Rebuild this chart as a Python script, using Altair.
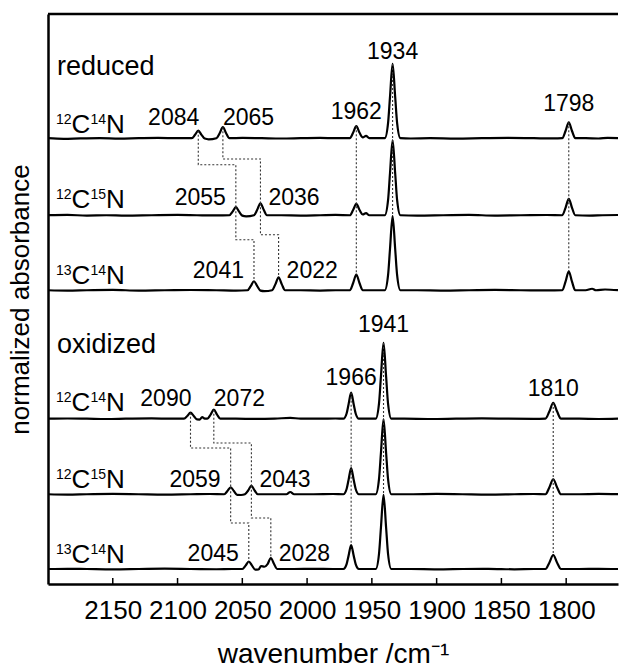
import altair as alt
import pandas as pd

FONT = "Liberation Sans"

# ---------------- data ----------------
# spectra: (wavenumber cm-1, normalized absorbance above own baseline)
red_12C14N = [
    (2200, 0.0), (2188, -0.008), (2175, -0.003), (2160, 0.0), (2145, -0.006), (2130, 0.0), (2115, 0.004), (2100, 0.0),
    (2089, 0.0), (2086.5, 0.045), (2084, 0.100), (2081.5, 0.045), (2079, -0.005), (2076, -0.015),
    (2070, 0.0), (2067.5, 0.066), (2065, 0.147), (2062.5, 0.066), (2060, 0.0),
    (2050, 0.004), (2035, 0.0), (2020, -0.004), (2005, 0.0), (1990, 0.004), (1978, 0.0),
    (1967, 0.002), (1964.5, 0.072), (1962, 0.160), (1959.5, 0.072), (1957, 0.012), (1954.5, 0.03), (1952, 0.0),
    (1946, 0.0), (1940, 0.0), (1937.5, 0.2), (1936, 0.55), (1934, 0.99), (1932, 0.55), (1930.5, 0.2), (1928, 0.0),
    (1920, -0.004), (1905, 0.0), (1885, -0.005), (1865, 0.0), (1845, 0.004), (1825, 0.0), (1810, -0.003),
    (1803, 0.0), (1800.5, 0.096), (1798, 0.213), (1795.5, 0.096), (1793, 0.0),
    (1785, 0.0), (1775, -0.004), (1768, 0.004), (1760, 0.0),
]
red_12C15N = [
    (2200, 0.0), (2185, 0.004), (2170, -0.004), (2155, 0.0), (2140, -0.005), (2120, 0.0), (2100, 0.004), (2085, 0.0), (2070, -0.003),
    (2060, 0.0), (2057.5, 0.048), (2055, 0.107), (2052.5, 0.048), (2050, -0.005), (2047, -0.015),
    (2041, 0.0), (2038.5, 0.072), (2036, 0.160), (2033.5, 0.072), (2031, 0.0),
    (2020, 0.0), (2005, -0.004), (1990, 0.0), (1978, 0.004),
    (1967, 0.0), (1964.5, 0.069), (1962, 0.153), (1959.5, 0.069), (1957, 0.01), (1954.5, 0.028), (1952, 0.0),
    (1946, 0.0), (1940, 0.0), (1937.5, 0.2), (1936, 0.56), (1934, 1.0), (1932, 0.56), (1930.5, 0.2), (1928, 0.0),
    (1915, -0.004), (1895, 0.0), (1875, 0.004), (1855, -0.004), (1835, 0.0), (1815, 0.003),
    (1803, 0.0), (1800.5, 0.099), (1798, 0.220), (1795.5, 0.099), (1793, 0.0),
    (1782, -0.004), (1772, 0.0), (1760, 0.003),
]
red_13C14N = [
    (2200, 0.0), (2185, -0.004), (2170, 0.0), (2150, 0.004), (2130, -0.004), (2110, 0.0), (2090, 0.003), (2070, 0.0), (2055, -0.004),
    (2046, 0.0), (2043.5, 0.054), (2041, 0.120), (2038.5, 0.054), (2036, -0.005), (2033, -0.012),
    (2027, 0.0), (2024.5, 0.078), (2022, 0.173), (2019.5, 0.078), (2017, 0.0),
    (2005, 0.0), (1990, -0.004), (1978, 0.0),
    (1967, 0.0), (1964.5, 0.093), (1962, 0.207), (1959.5, 0.093), (1957, 0.0),
    (1946, 0.0), (1940, 0.0), (1937.5, 0.2), (1936, 0.55), (1934, 0.99), (1932, 0.55), (1930.5, 0.2), (1928, 0.0),
    (1915, 0.0), (1895, -0.004), (1875, 0.0), (1855, 0.004), (1835, 0.0), (1815, -0.003),
    (1803, 0.0), (1800.5, 0.114), (1798, 0.253), (1795.5, 0.114), (1793, 0.0),
    (1785, 0.0), (1780, 0.02), (1777, 0.0), (1770, 0.01), (1760, 0.0),
]
ox_12C14N = [
    (2200, 0.0), (2185, 0.003), (2170, 0.0), (2155, -0.004), (2140, 0.0), (2120, 0.004), (2105, 0.0),
    (2095, 0.0), (2092.5, 0.036), (2090, 0.080), (2087.5, 0.036), (2085, -0.01), (2083, -0.012), (2081, 0.02), (2079, 0.0),
    (2077, 0.0), (2074.5, 0.054), (2072, 0.120), (2069.5, 0.054), (2067, 0.0),
    (2055, 0.0), (2040, -0.003), (2025, 0.0), (2013, 0.012), (2005, 0.0), (1990, 0.0), (1978, 0.003),
    (1972, 0.0), (1969.5, 0.07), (1968, 0.19), (1966, 0.347), (1964, 0.19), (1962.5, 0.07), (1960, 0.0),
    (1953, 0.0), (1947, 0.0), (1944.5, 0.2), (1943, 0.56), (1941, 1.01), (1939, 0.56), (1937.5, 0.2), (1935, 0.0),
    (1925, 0.0), (1905, -0.004), (1885, 0.0), (1865, 0.004), (1845, 0.0), (1825, -0.003),
    (1816, 0.0), (1813, 0.095), (1810, 0.210), (1807, 0.095), (1804, 0.0),
    (1790, 0.0), (1775, -0.004), (1760, 0.0),
]
ox_12C15N = [
    (2200, 0.0), (2185, -0.004), (2170, 0.0), (2150, 0.004), (2130, 0.0), (2110, -0.004), (2090, 0.0), (2075, 0.003),
    (2064, 0.0), (2061.5, 0.042), (2059, 0.093), (2056.5, 0.042), (2054, -0.008), (2051, -0.01), (2048, 0.0),
    (2045.5, 0.05), (2043, 0.113), (2040.5, 0.05), (2038, 0.0),
    (2025, 0.0), (2016, 0.0), (2013, 0.03), (2010, 0.0), (1995, 0.0), (1980, 0.003),
    (1972, 0.0), (1969.5, 0.07), (1968, 0.19), (1966, 0.347), (1964, 0.19), (1962.5, 0.07), (1960, 0.0),
    (1953, 0.0), (1947, 0.0), (1944.5, 0.2), (1943, 0.55), (1941, 1.0), (1939, 0.55), (1937.5, 0.2), (1935, 0.0),
    (1920, 0.0), (1900, 0.004), (1880, 0.0), (1860, -0.004), (1840, 0.0), (1825, 0.003),
    (1816, 0.0), (1813, 0.09), (1810, 0.200), (1807, 0.09), (1804, 0.0),
    (1790, 0.0), (1775, 0.004), (1760, 0.0),
]
ox_13C14N = [
    (2200, 0.0), (2185, 0.003), (2170, 0.0), (2150, -0.004), (2130, 0.0), (2110, 0.004), (2090, 0.0), (2070, -0.003), (2058, 0.0),
    (2050, 0.0), (2047.5, 0.045), (2045, 0.100), (2042.5, 0.045), (2040, -0.008), (2037.5, -0.005),
    (2035.5, 0.04), (2033, 0.03), (2030.5, 0.066), (2028, 0.147), (2025.5, 0.066), (2023, 0.0),
    (2010, 0.0), (1995, 0.003), (1980, 0.0),
    (1972, 0.0), (1969.5, 0.065), (1968, 0.175), (1966, 0.32), (1964, 0.175), (1962.5, 0.065), (1960, 0.0),
    (1953, 0.0), (1947, 0.0), (1944.5, 0.2), (1943, 0.55), (1941, 0.99), (1939, 0.55), (1937.5, 0.2), (1935, 0.0),
    (1920, 0.0), (1900, -0.004), (1880, 0.0), (1860, 0.003), (1840, -0.004), (1825, 0.0),
    (1816, 0.0), (1813, 0.084), (1810, 0.187), (1807, 0.084), (1804, 0.0),
    (1790, 0.0), (1775, 0.003), (1760, 0.0),
]

spectrum_names = ["red_12C14N", "red_12C15N", "red_13C14N", "ox_12C14N", "ox_12C15N", "ox_13C14N"]
spectrum_data = [red_12C14N, red_12C15N, red_13C14N, ox_12C14N, ox_12C15N, ox_13C14N]
stack_offsets = [5.944, 4.917, 3.917, 2.204, 1.197, 0.20]

# isotope labels (superscript mass numbers)
iso_C = ["12", "12", "13", "12", "12", "13"]
iso_N = ["14", "15", "14", "14", "15", "14"]
iso_label_wn = 2193
iso_label_lift = [0.069, 0.096, 0.083, 0.097, 0.083, 0.08]

# state labels
state_text = ["reduced", "oxidized"]
state_y = [6.79, 3.08]

# peak labels: text, style group, baseline level
peak_text = ["1934", "2084", "2065", "1962", "1798", "2055", "2036", "2041", "2022",
             "1941", "1966", "1810", "2090", "2072", "2059", "2043", "2045", "2028"]
peak_style = ["c", "rp", "lp", "c", "c", "r", "l", "r", "l",
              "c", "c", "c", "rp", "lp", "r", "l", "r", "l"]
peak_level = [7.00, 6.124, 6.124, 6.20, 6.301, 5.057, 5.057, 4.08, 4.08,
              3.364, 2.657, 2.501, 2.377, 2.377, 1.297, 1.297, 0.311, 0.311]

# isotope-shift connectors: upper peak, upper spectrum, lower peak, lower spectrum, step level
conn_from = [2084, 2065, 2055, 2036, 2090, 2072, 2059, 2043]
conn_from_spec = [0, 0, 1, 1, 3, 3, 4, 4]
conn_to = [2055, 2036, 2041, 2022, 2059, 2043, 2045, 2028]
conn_to_spec = [1, 1, 2, 2, 4, 4, 5, 5]
conn_level = [5.591, 5.667, 4.591, 4.657, 1.813, 1.880, 0.813, 0.880]

# unshifted bands: vertical dotted guides
guide_wn = [1962, 1934, 1798, 1966, 1941, 1810]
guide_from_spec = [0, 0, 0, 3, 3, 3]
guide_to_spec = [2, 2, 2, 5, 5, 5]

tick_values = [2150, 2100, 2050, 2000, 1950, 1900, 1850, 1800]

# ---------------- tables ----------------
rows = []
for name, pts, off in zip(spectrum_names, spectrum_data, stack_offsets):
    for w, a in pts:
        rows.append({"spec": name, "wn": w, "y": a + off})
spec_df = pd.DataFrame(rows)


def peak_top(spec_idx, wn):
    d = dict(spectrum_data[spec_idx])
    return d[wn] + stack_offsets[spec_idx]


crow = []
k = 0
for a, sa, b, sb, lev in zip(conn_from, conn_from_spec, conn_to, conn_to_spec, conn_level):
    pts = [(a, peak_top(sa, a)), (a, lev), (b, lev), (b, peak_top(sb, b))]
    for i, (w, yv) in enumerate(pts):
        crow.append({"cid": k, "seq": i, "wn": w, "y": yv})
    k += 1
for g, sa, sb in zip(guide_wn, guide_from_spec, guide_to_spec):
    pts = [(g, peak_top(sa, g)), (g, peak_top(sb, g))]
    for i, (w, yv) in enumerate(pts):
        crow.append({"cid": k, "seq": i, "wn": w, "y": yv})
    k += 1
conn_df = pd.DataFrame(crow)

peak_df = pd.DataFrame({"text": peak_text, "style": peak_style, "y": peak_level,
                        "wn": [float(t) for t in peak_text]})
iso_df = pd.DataFrame({"c": iso_C, "n": iso_N, "wn": iso_label_wn,
                       "y": [o + l for o, l in zip(stack_offsets, iso_label_lift)]})
state_df = pd.DataFrame({"text": state_text, "wn": iso_label_wn, "y": state_y})
tick_df = pd.DataFrame({"wn": tick_values})
one_df = pd.DataFrame({"k": [0]})

# ---------------- encodings ----------------
xs = alt.Scale(domain=[2200, 1760], nice=False, zero=False)
ys = alt.Scale(domain=[0, 7.6], nice=False, zero=False)
x_axis = alt.Axis(values=tick_values, format="d", labelOverlap=False, ticks=False, tickSize=0,
                  labelFontSize=26, labelFont=FONT,
                  labelColor="black", labelPadding=13, domainColor="black", domainWidth=2.5, grid=False,
                  title="wavenumber /cm\u207b\u00b9", titleFont=FONT, titleFontSize=28,
                  titleFontWeight="normal", titleColor="black", titlePadding=17, labelFlush=False)
y_axis = alt.Axis(labels=False, ticks=False, tickSize=0, domainColor="black", domainWidth=2.5, grid=False,
                  title="normalized absorbance", titleFont=FONT, titleFontSize=26,
                  titleFontWeight="normal", titleColor="black", titlePadding=15)
X = alt.X("wn:Q", scale=xs, axis=x_axis)
Y = alt.Y("y:Q", scale=ys, axis=y_axis)

lines = alt.Chart(spec_df).mark_line(color="black", strokeWidth=2.2, interpolate="monotone", clip=True).encode(
    x=X, y=Y, detail="spec:N")

dotted = alt.Chart(conn_df).mark_line(color="#333333", strokeWidth=1.1, strokeDash=[2, 2]).encode(
    x=X, y=Y, detail="cid:N", order="seq:Q")

styles = {"c": ("center", 0), "rp": ("right", 1), "lp": ("left", 0), "r": ("right", -10), "l": ("left", 8)}
label_layers = []
for key, (al, dx) in styles.items():
    label_layers.append(
        alt.Chart(peak_df).transform_filter(alt.datum.style == key)
        .mark_text(align=al, dx=dx, baseline="alphabetic", font=FONT, fontSize=23, color="black")
        .encode(x=X, y=Y, text="text:N"))

state_layer = alt.Chart(state_df).mark_text(align="left", baseline="alphabetic", font=FONT, fontSize=27,
                                            color="black").encode(x=X, y=Y, text="text:N")

iso_layers = [
    alt.Chart(iso_df).mark_text(align="left", baseline="alphabetic", font=FONT, fontSize=14, dx=-1, dy=-9,
                                color="black").encode(x=X, y=Y, text="c:N"),
    alt.Chart(iso_df).mark_text(align="left", baseline="alphabetic", font=FONT, fontSize=26, dx=14.5,
                                color="black").encode(x=X, y=Y, text=alt.value("C")),
    alt.Chart(iso_df).mark_text(align="left", baseline="alphabetic", font=FONT, fontSize=14, dx=33.5, dy=-9,
                                color="black").encode(x=X, y=Y, text="n:N"),
    alt.Chart(iso_df).mark_text(align="left", baseline="alphabetic", font=FONT, fontSize=26, dx=49,
                                color="black").encode(x=X, y=Y, text=alt.value("N")),
]

ticks = alt.Chart(tick_df).mark_rule(color="black", strokeWidth=1.5).encode(
    x=X, y=alt.value(570), y2=alt.value(564))

top_frame = alt.Chart(one_df).mark_rule(color="black", strokeWidth=2.5).encode(
    x=alt.value(0), x2=alt.value(570), y=alt.value(0))

chart = alt.layer(lines, dotted, *label_layers, state_layer, *iso_layers, ticks, top_frame).properties(
    width=570, height=570,
    padding={"left": 48, "top": 14, "right": 1, "bottom": 84},
    autosize=alt.AutoSizeParams(type="none"),
).configure_view(stroke=None)

chart.save("out.html", embed_options={"renderer": "svg", "actions": False})
